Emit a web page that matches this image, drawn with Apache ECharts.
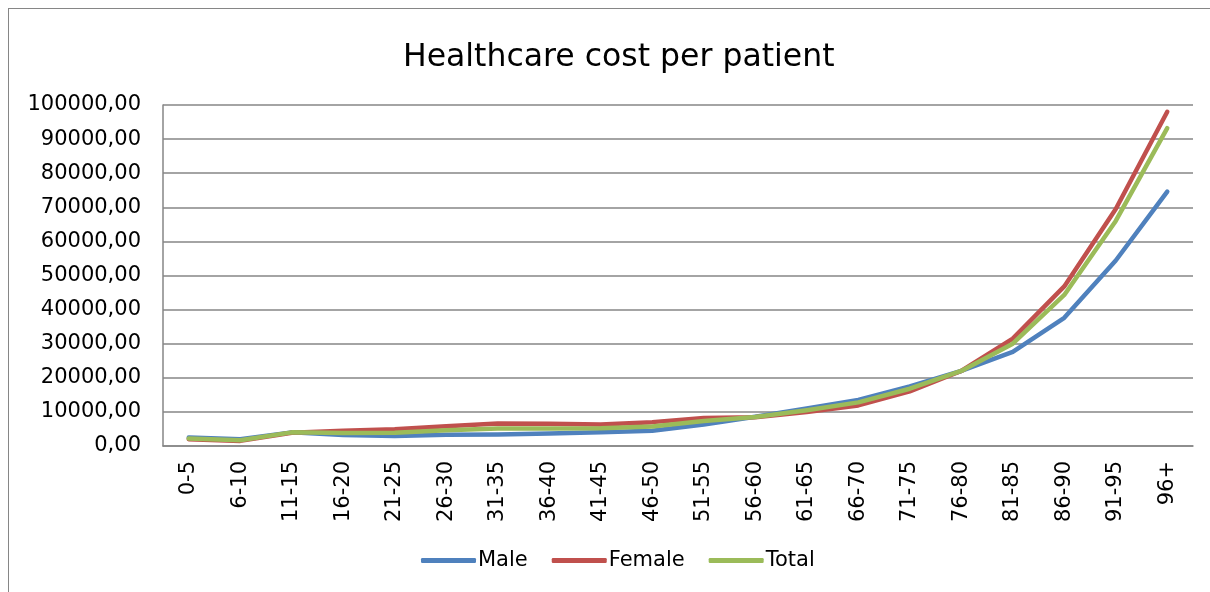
<!DOCTYPE html>
<html>
<head>
<meta charset="utf-8">
<style>
  html, body { margin: 0; padding: 0; background: #fff; }
  #frame { position: absolute; left: 8px; top: 8px; width: 1400px; height: 800px; border: 1px solid #868686; box-sizing: border-box; }
  #chart { position: absolute; left: 0; top: 0; width: 1210px; height: 592px; }
</style>
<script src="https://cdn.jsdelivr.net/npm/echarts@6/dist/echarts.min.js"></script>
</head>
<body>
<div id="frame"></div>
<div id="chart"></div>
<script>
// Age bands
const ageGroups = ['0-5', '6-10', '11-15', '16-20', '21-25', '26-30', '31-35', '36-40', '41-45', '46-50',
  '51-55', '56-60', '61-65', '66-70', '71-75', '76-80', '81-85', '86-90', '91-95', '96+'];

// Cost per patient by age band
const male   = [2500, 2000, 4000, 3200, 2900, 3300, 3400, 3700, 4000, 4500,
  6300, 8600, 11000, 13500, 17500, 22000, 27600, 37600, 54400, 74600];
const female = [2000, 1500, 3900, 4500, 4900, 5800, 6600, 6500, 6300, 7000,
  8200, 8400, 10000, 11900, 16000, 22000, 31500, 46800, 69500, 98000];
const total  = [2200, 1700, 4000, 3800, 3900, 4600, 5100, 5100, 5200, 5700,
  7300, 8500, 10500, 12800, 16800, 22000, 30000, 44300, 66000, 93200];

const seriesColors = { Male: '#4F81BD', Female: '#C0504D', Total: '#9BBB59' };
const FONT = '"DejaVu Sans", Verdana, sans-serif';

function lineSeries(name, data) {
  return {
    name: name,
    type: 'line',
    data: data,
    symbol: 'none',
    smooth: false,
    color: seriesColors[name],
    lineStyle: { width: 4.5, color: seriesColors[name], cap: 'round', join: 'round' },
    emphasis: { disabled: true }
  };
}

const chart = echarts.init(document.getElementById('chart'), null, { renderer: 'canvas' });
chart.setOption({
  animation: false,
  backgroundColor: 'transparent',
  title: {
    text: 'Healthcare cost per patient',
    left: 398,
    top: 37,
    textStyle: { fontFamily: FONT, fontSize: 31.5, fontWeight: 'normal', color: '#000' }
  },
  legend: {
    bottom: 16,
    left: 416,
    icon: 'roundRect',
    itemWidth: 55,
    itemHeight: 5,
    itemGap: 24,
    textStyle: { fontFamily: FONT, fontSize: 21, color: '#000', padding: [0, 0, 0, -3] },
    data: ['Male', 'Female', 'Total']
  },
  grid: { left: 163, right: 17, top: 105, bottom: 146, containLabel: false },
  xAxis: {
    type: 'category',
    data: ageGroups,
    boundaryGap: true,
    axisLine: { lineStyle: { color: '#868686', width: 1.5 } },
    axisTick: { show: false },
    axisLabel: { rotate: 90, margin: 15, fontFamily: FONT, fontSize: 21, color: '#000', interval: 0 }
  },
  yAxis: {
    type: 'value',
    min: 0,
    max: 100000,
    interval: 10000,
    axisLine: { show: true, lineStyle: { color: '#868686', width: 1.5 } },
    axisTick: { show: false },
    splitLine: { lineStyle: { color: '#868686', width: 1.5 } },
    axisLabel: {
      margin: 22,
      fontFamily: FONT,
      fontSize: 21,
      color: '#000',
      formatter: v => v.toFixed(2).replace('.', ',')
    }
  },
  series: [
    lineSeries('Male', male),
    lineSeries('Female', female),
    lineSeries('Total', total)
  ]
});
</script>
</body>
</html>
